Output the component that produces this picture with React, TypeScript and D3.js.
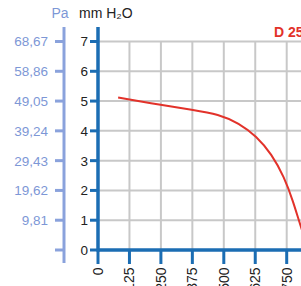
import React, { useEffect, useRef } from 'react'
import * as d3 from 'd3'

// flow values along x, fan curve
const flowTicks = [0, 125, 250, 375, 500, 625, 750]
const mmTicks = [0, 1, 2, 3, 4, 5, 6, 7]
const paLabels = ['', '9,81', '19,62', '29,43', '39,24', '49,05', '58,86', '68,67']
const curveFlow = [80, 250, 375, 480, 560, 630, 690, 740, 775, 805, 830]
const curveMm = [5.12, 4.87, 4.71, 4.56, 4.26, 3.82, 3.22, 2.45, 1.65, 0.8, 0.2]
const seriesName = 'D 250'

export default function App() {
  const ref = useRef<SVGSVGElement>(null)

  useEffect(() => {
    const svg = d3.select(ref.current)
    svg.selectAll('*').remove()

    const x = d3.scaleLinear().domain([0, 750]).range([98, 286.7])
    const y = d3.scaleLinear().domain([0, 7]).range([250, 41.5])
    const font = 'Liberation Sans, Arial, sans-serif'

    // grid
    const grid = svg.append('g').attr('stroke', '#c8c8c8').attr('stroke-width', 2)
    grid.selectAll('.h').data(mmTicks.slice(1)).enter().append('line')
      .attr('x1', 98).attr('x2', 310)
      .attr('y1', d => y(d)).attr('y2', d => y(d))
    grid.selectAll('.v').data(flowTicks.slice(1).concat([875])).enter().append('line')
      .attr('x1', d => x(d)).attr('x2', d => x(d))
      .attr('y1', y(7)).attr('y2', y(0))

    // curve
    const line = d3.line<number>()
      .x((d, i) => x(curveFlow[i]))
      .y(d => y(d))
      .curve(d3.curveBasis)
    svg.append('path')
      .attr('d', line(curveMm))
      .attr('fill', 'none')
      .attr('stroke', '#e2322a')
      .attr('stroke-width', 2)

    // Pa axis
    const paColor = '#8aa2dc'
    svg.append('line').attr('x1', 64).attr('x2', 64).attr('y1', 27).attr('y2', 263)
      .attr('stroke', paColor).attr('stroke-width', 3)
    svg.append('g').selectAll('line').data(mmTicks).enter().append('line')
      .attr('x1', 55).attr('x2', 64).attr('y1', d => y(d)).attr('y2', d => y(d))
      .attr('stroke', paColor).attr('stroke-width', 3)
    svg.append('g').selectAll('text').data(mmTicks).enter().append('text')
      .attr('x', 48).attr('y', d => y(d)).attr('dy', '0.36em')
      .attr('text-anchor', 'end').attr('font-family', font).attr('font-size', 13.5)
      .attr('fill', '#7d97d6')
      .text((d, i) => paLabels[i])
    svg.append('text').attr('x', 60).attr('y', 18).attr('text-anchor', 'middle')
      .attr('font-family', font).attr('font-size', 14).attr('fill', '#7d97d6').text('Pa')

    // mm axis
    const axisColor = '#1b6db3'
    svg.append('g').selectAll('line').data(mmTicks).enter().append('line')
      .attr('x1', 90).attr('x2', 98).attr('y1', d => y(d)).attr('y2', d => y(d))
      .attr('stroke', axisColor).attr('stroke-width', 3)
    svg.append('g').selectAll('text').data(mmTicks).enter().append('text')
      .attr('x', 88).attr('y', d => y(d)).attr('dy', '0.36em')
      .attr('text-anchor', 'end').attr('font-family', font).attr('font-size', 13.5)
      .attr('fill', '#222').text(d => d)
    svg.append('text').attr('x', 79).attr('y', 18)
      .attr('font-family', font).attr('font-size', 14).attr('fill', '#222')
      .text('mm H₂O')

    // x axis
    svg.append('g').selectAll('line').data(flowTicks).enter().append('line')
      .attr('x1', d => x(d)).attr('x2', d => x(d)).attr('y1', 250).attr('y2', 264)
      .attr('stroke', axisColor).attr('stroke-width', 3)
    svg.append('g').selectAll('text').data(flowTicks).enter().append('text')
      .attr('transform', d => `translate(${x(d)},267.5) rotate(-90)`)
      .attr('dy', '0.36em').attr('text-anchor', 'end')
      .attr('font-family', font).attr('font-size', 14).attr('fill', '#222')
      .text(d => d)
    svg.append('line').attr('x1', 98).attr('x2', 310).attr('y1', 250).attr('y2', 250)
      .attr('stroke', axisColor).attr('stroke-width', 3.5)
    svg.append('line').attr('x1', 98).attr('x2', 98).attr('y1', 27).attr('y2', 251.5)
      .attr('stroke', axisColor).attr('stroke-width', 3.5)

    svg.append('text').attr('x', 274).attr('y', 37)
      .attr('font-family', font).attr('font-size', 14).attr('font-weight', 'bold')
      .attr('fill', '#e2322a').text(seriesName)
  }, [])

  return (
    <svg ref={ref} width={301} height={286}
      style={{ position: 'absolute', left: 0, top: 0, background: '#fff' }} />
  )
}
